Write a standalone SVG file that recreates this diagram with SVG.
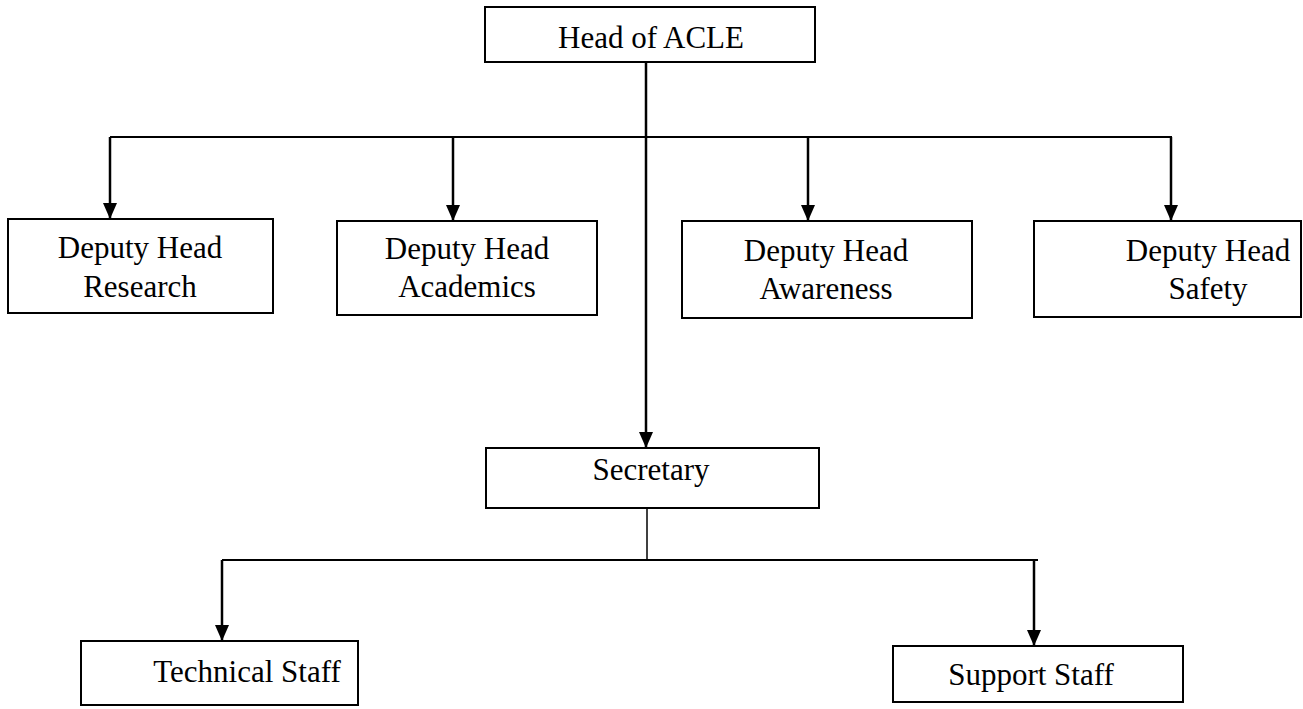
<svg xmlns="http://www.w3.org/2000/svg" width="1303" height="709" viewBox="0 0 1303 709">
<style>
.box{fill:#fff;stroke:#000;stroke-width:2}
.t{font-family:"Liberation Serif","Times New Roman",serif;font-size:31px;fill:#000;text-anchor:middle}
.c{fill:none;stroke:#000;stroke-width:2}
.a{fill:none;stroke:#000;stroke-width:2.5;marker-end:url(#arr)}
</style>
<defs>
<marker id="arr" viewBox="0 0 16 14" refX="16" refY="7" markerWidth="16" markerHeight="14" markerUnits="userSpaceOnUse" orient="auto">
<path d="M0,0 L16,7 L0,14 z" fill="#000"/>
</marker>
</defs>
<rect width="1303" height="709" fill="#fff"/>
<g id="connectors">
<line class="c" x1="110" y1="137" x2="1172" y2="137"/>
<line class="a" x1="646" y1="62" x2="646" y2="448"/>
<line class="a" x1="110" y1="137" x2="110" y2="219"/>
<line class="a" x1="453" y1="137" x2="453" y2="221"/>
<line class="a" x1="808" y1="137" x2="808" y2="221"/>
<line class="a" x1="1171" y1="137" x2="1171" y2="221"/>
<line class="c" x1="647" y1="508" x2="647" y2="560" style="stroke-width:1.5"/>
<line class="c" x1="222" y1="560" x2="1038" y2="560"/>
<line class="a" x1="222" y1="560" x2="222" y2="641"/>
<line class="a" x1="1034" y1="560" x2="1034" y2="646"/>
</g>
<g id="head">
<rect class="box" x="485" y="7" width="330" height="55"/>
<text class="t" x="651" y="48">Head of ACLE</text>
</g>
<g id="research">
<rect class="box" x="8" y="219" width="265" height="94"/>
<text class="t" x="140" y="258">Deputy Head</text>
<text class="t" x="140" y="297">Research</text>
</g>
<g id="academics">
<rect class="box" x="337" y="221" width="260" height="94"/>
<text class="t" x="467" y="259">Deputy Head</text>
<text class="t" x="467" y="297">Academics</text>
</g>
<g id="awareness">
<rect class="box" x="682" y="221" width="290" height="97"/>
<text class="t" x="826" y="261">Deputy Head</text>
<text class="t" x="826" y="299">Awareness</text>
</g>
<g id="safety">
<rect class="box" x="1034" y="221" width="267" height="96"/>
<text class="t" x="1208" y="261">Deputy Head</text>
<text class="t" x="1208" y="299">Safety</text>
</g>
<g id="secretary">
<rect class="box" x="486" y="448" width="333" height="60"/>
<text class="t" x="651" y="480">Secretary</text>
</g>
<g id="technical">
<rect class="box" x="81" y="641" width="277" height="64"/>
<text class="t" x="247" y="682">Technical Staff</text>
</g>
<g id="support">
<rect class="box" x="893" y="646" width="290" height="56"/>
<text class="t" x="1031" y="685">Support Staff</text>
</g>
</svg>
